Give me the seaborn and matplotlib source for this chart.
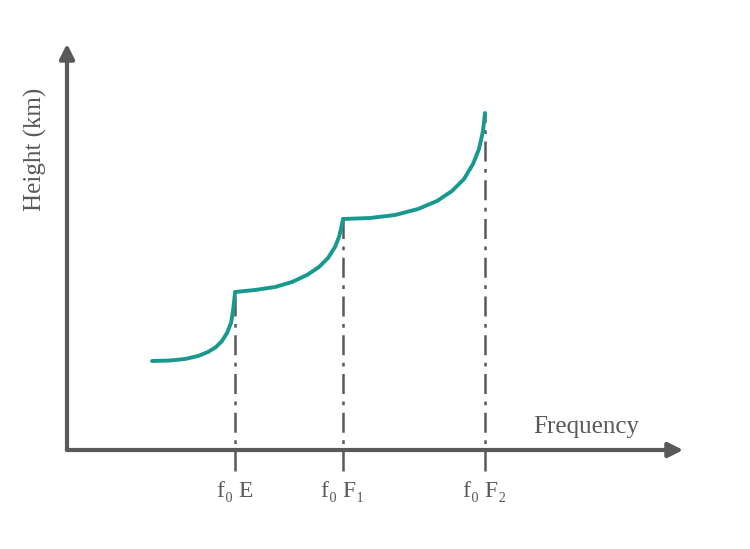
import matplotlib
matplotlib.use('Agg')
import matplotlib.pyplot as plt
import seaborn as sns

# curve (x, height), in picture units
seg_e_x = [152, 170, 185, 198, 208, 216, 222, 227, 231, 233, 235]
seg_e_y = [188, 188.5, 190, 193, 197, 202, 208, 216, 226, 238, 256]
seg_f1_x = [235, 255, 275, 292, 307, 319, 328, 335, 339, 341, 343]
seg_f1_y = [257, 259, 262, 267, 274, 282, 291, 302, 312, 320, 330]
seg_f2_x = [343, 370, 395, 418, 437, 452, 464, 473, 479, 483, 485]
seg_f2_y = [330, 331, 334, 340, 348, 358, 370, 385, 400, 418, 436]

crit_x = [235, 343, 485]
crit_top = [256, 330, 436]
crit_labels = ['f\u2080 E', 'f\u2080 F\u2081', 'f\u2080 F\u2082']

sns.set_style('white')
plt.rcParams['font.family'] = ['Liberation Serif', 'DejaVu Serif']

fig = plt.figure(figsize=(7.5, 5.49), dpi=100)
ax = fig.add_axes([0, 0, 1, 1])
ax.set_xlim(0, 750)
ax.set_ylim(0, 549)
ax.axis('off')

grey = '#595959'
teal = '#17998F'

# axes with arrows
ax.annotate('', xy=(686, 99), xytext=(64, 99),
            arrowprops=dict(arrowstyle='-|>', color=grey, lw=3, mutation_scale=22))
ax.annotate('', xy=(67, 508), xytext=(67, 97),
            arrowprops=dict(arrowstyle='-|>', color=grey, lw=3, mutation_scale=22))

for x, top in zip(crit_x, crit_top):
    ax.plot([x, x], [78, top], color=grey, lw=1.8, ls=(0, (8, 3, 1.5, 3)))

for sx, sy in [(seg_e_x, seg_e_y), (seg_f1_x, seg_f1_y), (seg_f2_x, seg_f2_y)]:
    sns.lineplot(x=sx, y=sy, ax=ax, color=teal, lw=2.8, sort=False)

for x, lab in zip(crit_x, crit_labels):
    ax.text(x, 57, lab, ha='center', va='center', fontsize=17, color=grey)

ax.text(586, 122, 'Frequency', ha='center', va='center', fontsize=18, color=grey)
ax.text(35, 400, 'Height (km)', ha='center', va='center', rotation=90,
        fontsize=18, color=grey)

fig.savefig('out.png', dpi=100)
